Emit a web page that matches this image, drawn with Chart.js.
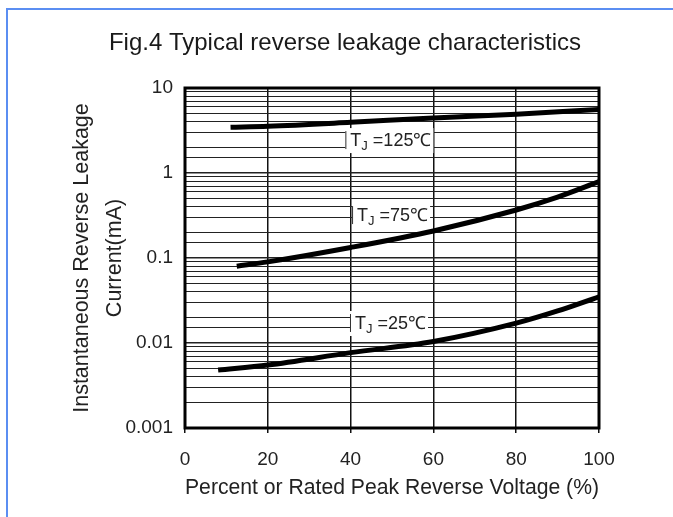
<!DOCTYPE html>
<html>
<head>
<meta charset="utf-8">
<script src="https://cdn.jsdelivr.net/npm/chart.js@4.4.1/dist/chart.umd.min.js"></script>
<style>
  html, body { margin: 0; padding: 0; background: #fff; }
  #wrap { position: relative; width: 673px; height: 517px; overflow: hidden; }
  #frame { position: absolute; left: 6px; top: 8px; width: 800px; height: 600px;
           border-top: 2px solid #5b8ef2; border-left: 2px solid #5b8ef2; }
  canvas { position: absolute; left: 0; top: 0; }
</style>
</head>
<body>
<div id="wrap">
  <canvas id="leakage" width="673" height="517"></canvas>
  <div id="frame"></div>
</div>
<script>
// readings: x = percent of rated reverse voltage, y = leakage current (mA)
const x125 = [11, 20, 40, 60, 80, 100];
const i125 = [3.45, 3.55, 3.95, 4.45, 4.9, 5.6];

const x75 = [12.5, 20, 40, 60, 80, 90, 100];
const i75 = [0.080, 0.090, 0.133, 0.208, 0.367, 0.52, 0.79];

const x25 = [8, 20, 40, 60, 80, 90, 100];
const i25 = [0.0048, 0.0055, 0.0077, 0.0104, 0.0171, 0.0238, 0.035];

const xTicks = [0, 20, 40, 60, 80, 100];
const yTickLabels = ["10", "1", "0.1", "0.01", "0.001"];

// curve tags (temperature, right end x %, centre y mA)
const tjTemps = ["125", "75", "25"];
const tjX = [60, 59.2, 58.7];
const tjY = [2.44, 0.32, 0.0172];

const FONT = "'Liberation Sans', Arial, sans-serif";

const toPoints = (xs, ys) => xs.map((x, i) => ({ x: x, y: ys[i] }));

const curveStyle = {
  borderColor: "#000",
  borderWidth: 5,
  pointRadius: 0,
  fill: false,
  cubicInterpolationMode: "monotone",
};

// title, frame and TJ tags
const figurePlugin = {
  id: "figure",
  beforeDatasetsDraw(chart) {
    const { ctx, scales } = chart;
    ctx.save();
    tjTemps.forEach((t, i) => {
      const right = scales.x.getPixelForValue(tjX[i]);
      const cy = scales.y.getPixelForValue(tjY[i]);
      ctx.font = "18px " + FONT;
      const wT = ctx.measureText("T").width;
      const rest = " =" + t + "\u2103";
      const wRest = ctx.measureText(rest).width;
      ctx.font = "13px " + FONT;
      const wJ = ctx.measureText("J").width;
      const total = wT + wJ + wRest;
      const left = right - total - 2;
      ctx.fillStyle = "#fff";
      ctx.fillRect(left - 5, cy - 12, total + 7, 25);
      ctx.fillStyle = "#333";
      ctx.fillRect(left - 5, cy - 9, 1, 18);
      ctx.fillStyle = "#222";
      ctx.textBaseline = "alphabetic";
      ctx.textAlign = "left";
      ctx.font = "18px " + FONT;
      ctx.fillText("T", left, cy + 6);
      ctx.font = "13px " + FONT;
      ctx.fillText("J", left + wT, cy + 10);
      ctx.font = "18px " + FONT;
      ctx.fillText(rest, left + wT + wJ, cy + 6);
    });
    ctx.restore();
  },
  afterDraw(chart) {
    const { ctx, chartArea } = chart;
    ctx.save();
    ctx.strokeStyle = "#000";
    ctx.lineWidth = 3;
    ctx.strokeRect(chartArea.left, chartArea.top,
      chartArea.right - chartArea.left, chartArea.bottom - chartArea.top);
    ctx.fillStyle = "#1a1a1a";
    ctx.font = "24px " + FONT;
    ctx.textAlign = "center";
    ctx.textBaseline = "middle";
    ctx.fillText("Fig.4 Typical reverse leakage characteristics", 345, 43);
    ctx.restore();
  },
};

new Chart(document.getElementById("leakage"), {
  type: "line",
  data: {
    datasets: [
      Object.assign({ label: "TJ=125", data: toPoints(x125, i125) }, curveStyle),
      Object.assign({ label: "TJ=75", data: toPoints(x75, i75) }, curveStyle),
      Object.assign({ label: "TJ=25", data: toPoints(x25, i25) }, curveStyle),
    ],
  },
  options: {
    responsive: false,
    animation: false,
    layout: { padding: { top: 88, right: 74, bottom: 0, left: 0 } },
    plugins: {
      legend: { display: false },
      tooltip: { enabled: false },
    },
    scales: {
      x: {
        type: "linear",
        min: 0,
        max: 100,
        afterBuildTicks: (scale) => {
          scale.ticks = xTicks.map((v) => ({ value: v }));
        },
        afterFit: (scale) => { scale.height = 89; },
        grid: { color: "#111", lineWidth: 1.5, tickLength: 5, drawTicks: true },
        border: { display: false },
        ticks: {
          color: "#222",
          padding: 15,
          font: { family: FONT, size: 19 },
          maxRotation: 0,
        },
        title: {
          display: true,
          text: "Percent or Rated Peak Reverse Voltage (%)",
          color: "#222",
          font: { family: FONT, size: 22 },
          padding: { top: 0, bottom: 16 },
        },
      },
      y: {
        type: "logarithmic",
        min: 0.001,
        max: 10,
        afterFit: (scale) => { scale.width = 185; },
        grid: {
          drawTicks: false,
          color: "#222",
          lineWidth: (c) => {
            const v = c.tick ? c.tick.value : 1;
            const e = Math.log10(v);
            return Math.abs(e - Math.round(e)) < 1e-6 ? 1.6 : 1.1;
          },
        },
        border: { display: false },
        ticks: {
          autoSkip: false,
          color: "#222",
          padding: 12,
          font: { family: FONT, size: 19 },
          callback: (v) => {
            const e = Math.log10(v);
            if (Math.abs(e - Math.round(e)) > 1e-6) return "";
            return yTickLabels[1 - Math.round(e)];
          },
        },
        title: {
          display: true,
          text: ["Instantaneous Reverse Leakage", "Current(mA)"],
          color: "#222",
          font: { family: FONT, size: 21.5, lineHeight: 1.55 },
          padding: { top: 65, bottom: 0 },
        },
      },
    },
  },
  plugins: [figurePlugin],
});
</script>
</body>
</html>
